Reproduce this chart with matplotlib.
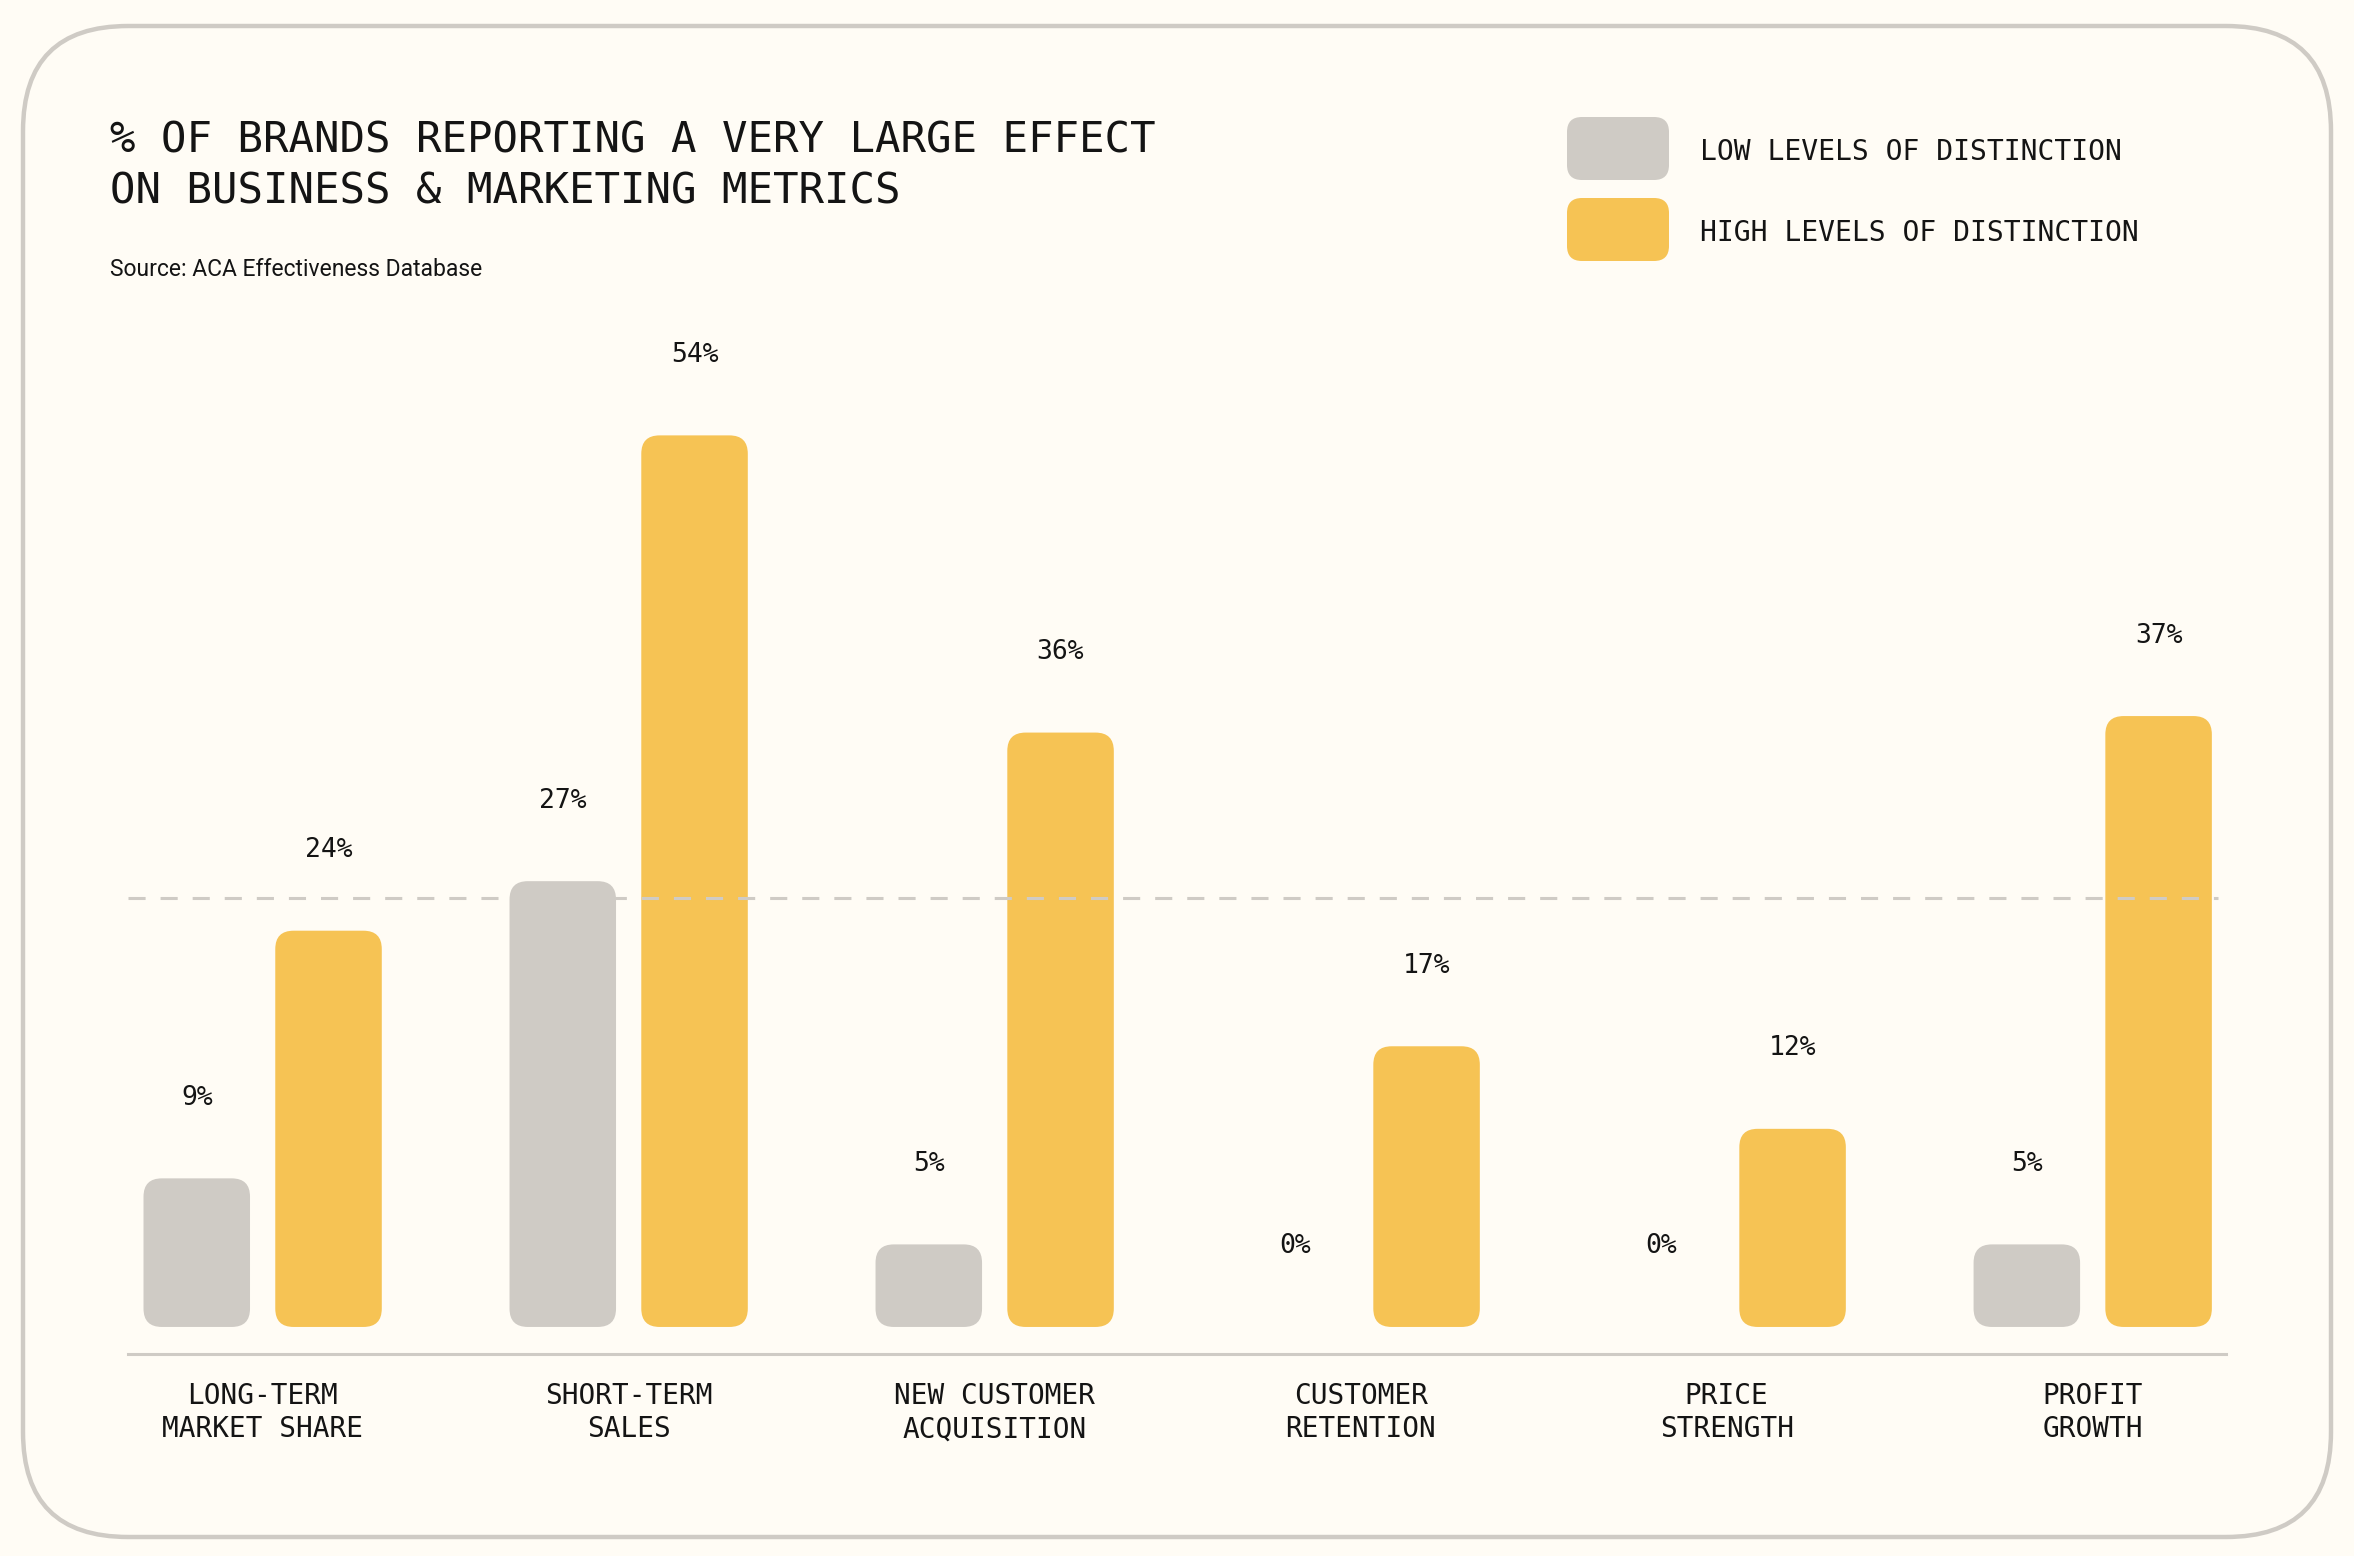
"""
Distinctiveness chart: share of brands reporting a very large effect.
"""

import matplotlib
matplotlib.use("Agg")
import matplotlib.pyplot as plt
import numpy as np
from matplotlib.patches import FancyBboxPatch

categories = [
    "LONG-TERM\nMARKET SHARE",
    "SHORT-TERM\nSALES",
    "NEW CUSTOMER\nACQUISITION",
    "CUSTOMER\nRETENTION",
    "PRICE\nSTRENGTH",
    "PROFIT\nGROWTH",
]
low_values = [9, 27, 5, 0, 0, 5]
high_values = [24, 54, 36, 17, 12, 37]
series_names = ["LOW LEVELS OF DISTINCTION", "HIGH LEVELS OF DISTINCTION"]
reference_level = 26

BG = "#fffcf5"
GREY = "#cfcbc5"
YELLOW = "#f6c354"
INK = "#141414"
MONO = "DejaVu Sans Mono"

W, H = 2354, 1556
fig = plt.figure(figsize=(W / 100, H / 100), dpi=100)
fig.patch.set_facecolor(BG)

# pixel-space overlay for card, title and legend
bg = fig.add_axes([0, 0, 1, 1], zorder=0)
bg.set_xlim(0, W)
bg.set_ylim(H, 0)
bg.axis("off")
bg.add_patch(FancyBboxPatch((23, 26), 2308, 1511,
                            boxstyle="round,pad=0,rounding_size=105",
                            facecolor=BG, edgecolor=GREY, linewidth=3.2))

bg.text(110, 152, "% OF BRANDS REPORTING A VERY LARGE EFFECT", fontsize=30.5,
        family=MONO, color=INK, va="baseline")
bg.text(110, 203, "ON BUSINESS & MARKETING METRICS", fontsize=30.5,
        family=MONO, color=INK, va="baseline")
bg.text(110, 276, "Source: ACA Effectiveness Database", fontsize=16.5,
        family="Roboto", color=INK, va="baseline")

for i, (name, col) in enumerate(zip(series_names, [GREY, YELLOW])):
    y0 = 117 + i * 81
    bg.add_patch(FancyBboxPatch((1567, y0), 102, 63,
                                boxstyle="round,pad=0,rounding_size=15",
                                facecolor=col, edgecolor="none"))
    bg.text(1700, y0 + 35, name, fontsize=20.2, family=MONO, color=INK,
            va="center", ha="left")

# bar chart
ax = fig.add_axes([0.0542, 0.1298, 0.8914, 0.6774], zorder=1)
ax.set_facecolor("none")
ax.set_xlim(-0.369, 5.364)
ax.set_ylim(-1.64, 62.2)

x = np.arange(len(categories))
offset, width = 0.18, 0.291
# aspect between y units and x units in pixels, for round corners
aspect = 366 / 16.5

for xs, vals, col in [(x - offset, low_values, GREY), (x + offset, high_values, YELLOW)]:
    for xi, v in zip(xs, vals):
        if v > 0:
            ax.add_patch(FancyBboxPatch((xi - width / 2, 0), width, v,
                                        boxstyle="round,pad=0,rounding_size=0.05",
                                        mutation_aspect=aspect,
                                        facecolor=col, edgecolor="none", zorder=2))
        ax.annotate(f"{v}%", (xi, v), xytext=(0, 58), textcoords="offset points",
                    ha="center", va="center", fontsize=19, family=MONO, color=INK)

ax.axhline(reference_level, xmin=0, xmax=0.996, color=GREY, lw=2.2,
           dashes=(5.6, 4.9), zorder=3)

for side in ["top", "right", "left"]:
    ax.spines[side].set_visible(False)
ax.spines["bottom"].set_color(GREY)
ax.spines["bottom"].set_linewidth(2.2)
ax.set_yticks([])
ax.set_xticks(x)
ax.set_xticklabels(categories, fontsize=20, family=MONO, color=INK, linespacing=1.25)
ax.tick_params(axis="x", length=0, pad=20)

fig.savefig("out.png", dpi=100, facecolor=BG)
